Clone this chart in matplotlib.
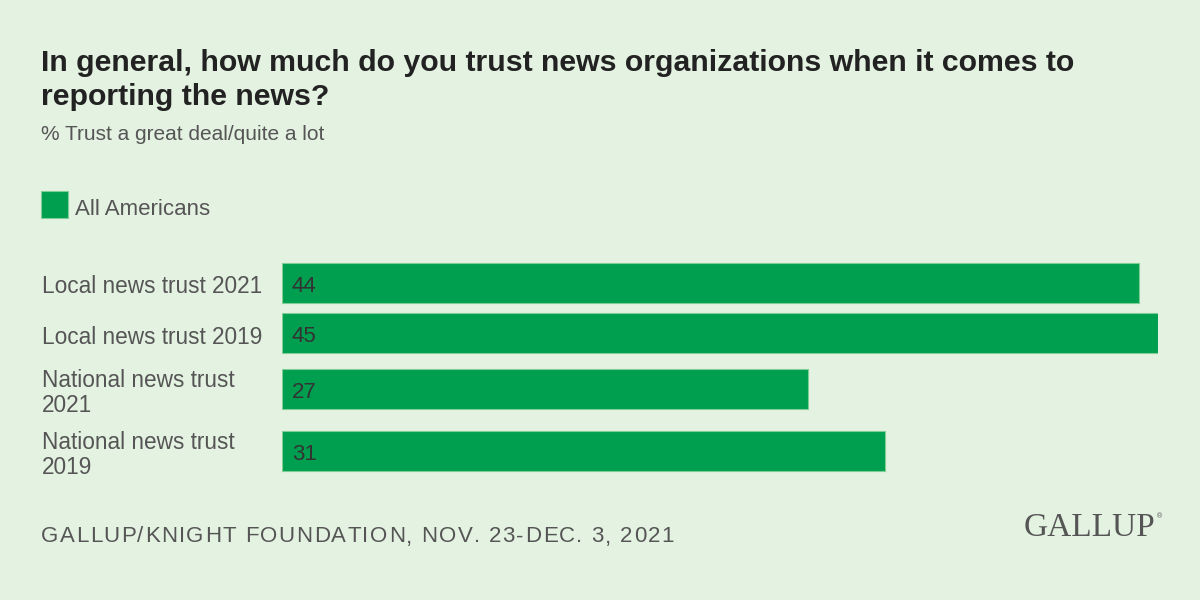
import matplotlib.pyplot as plt
import matplotlib

matplotlib.rcParams['font.family'] = ['Liberation Sans', 'DejaVu Sans']

categories = ["Local news trust 2021", "Local news trust 2019",
              "National news trust\n2021", "National news trust\n2019"]
values = [44, 45, 27, 31]
series_name = "All Americans"

title = "In general, how much do you trust news organizations when it comes to\nreporting the news?"
subtitle = "% Trust a great deal/quite a lot"
source = "GALLUP/KNIGHT FOUNDATION, NOV. 23-DEC. 3, 2021"

BG = "#e4f2e2"
GREEN = "#009e4f"

W, H = 1200, 600
fig = plt.figure(figsize=(12, 6), dpi=100, facecolor=BG)

# bar area: x=0 at pixel 282, value 45 at pixel 1158; y in pixel units
x0, x1 = 282, 1158
ax = fig.add_axes([x0 / W, 0, (x1 - x0) / W, 1])
ax.set_facecolor("none")
ax.set_xlim(0, max(values))
ax.set_ylim(H, 0)
ax.axis("off")

ypos = [283, 333, 389, 451]
ax.barh(ypos, values, height=40, color=GREEN, edgecolor="#7fcf95",
        linewidth=0.8, label=series_name)

for y, v, c in zip(ypos, values, categories):
    ax.text(0.5, y + 3, str(v), va="center", ha="left", fontsize=16,
            color="#333333")
    fig.text(42 / W, 1 - (y + 4) / H, c, va="center", ha="left", fontsize=16.3,
             color="#555555", linespacing=1.15)

fig.text(41 / W, 1 - 80 / H, title, va="center", ha="left", fontsize=21.8,
         fontweight="bold", color="#222222", linespacing=1.3)
fig.text(41 / W, 1 - 135 / H, subtitle, va="center", ha="left", fontsize=15,
         color="#555555")

# legend
fig.patches.append(matplotlib.patches.Rectangle((41 / W, 1 - 218 / H), 27 / W, 27 / H,
                   transform=fig.transFigure, facecolor=GREEN, edgecolor="#7fcf95",
                   linewidth=0.8))
fig.text(75 / W, 1 - 209 / H, series_name, va="center", ha="left", fontsize=16,
         color="#555555")

# source line with letter spacing
renderer = fig.canvas.get_renderer()
xp = 41
for ch in source:
    t = fig.text(xp / W, 1 - 537 / H, ch, va="center", ha="left", fontsize=16,
                 color="#555555")
    if ch == " ":
        w = 16 * 100 / 72 * 0.278
    else:
        w = t.get_window_extent(renderer).width
    xp += w + 1.4

fig.text(1155 / W, 1 - 528 / H, "GALLUP", va="center", ha="right", fontsize=24,
         color="#555555", family=["Liberation Serif", "DejaVu Serif"])
fig.text(1157 / W, 1 - 517 / H, "®", va="center", ha="left", fontsize=5,
         color="#555555")

fig.savefig("out.png", dpi=100, facecolor=BG)
